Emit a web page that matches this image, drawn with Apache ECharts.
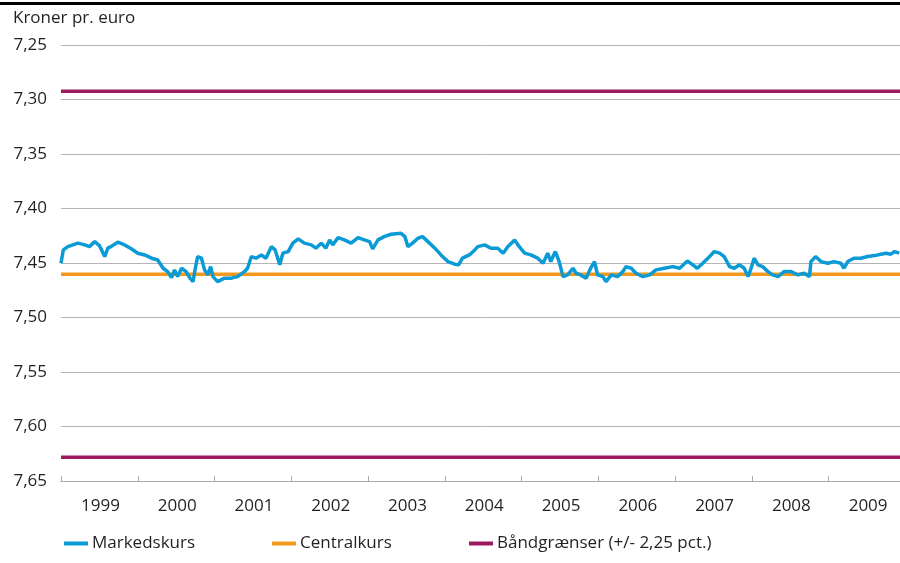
<!DOCTYPE html>
<html>
<head>
<meta charset="utf-8">
<script src="https://cdn.jsdelivr.net/npm/echarts@6/dist/echarts.min.js"></script>
<style>
  html, body { margin: 0; padding: 0; background: #fff; }
  #chart { width: 900px; height: 563px; }
</style>
</head>
<body>
<div id="chart"></div>
<script>
// Kronekurs mod euro 1999-2009 (y-akse vendt: 7,25 øverst)
var startYear = 1999;
var endYear = 2009.93;

// markedskurs, tid i decimalår
var marketDates = [
  1999.00, 1999.03, 1999.09, 1999.22, 1999.31, 1999.37, 1999.44, 1999.50, 1999.57, 1999.61,
  1999.65, 1999.74, 1999.83, 1999.92, 2000.00, 2000.09, 2000.18, 2000.26, 2000.33, 2000.39,
  2000.44, 2000.48, 2000.52, 2000.57, 2000.63, 2000.68, 2000.72, 2000.75, 2000.78, 2000.83,
  2000.87, 2000.91, 2000.95, 2000.98, 2001.04, 2001.13, 2001.22, 2001.30, 2001.39, 2001.43,
  2001.48, 2001.54, 2001.61, 2001.67, 2001.74, 2001.79, 2001.85, 2001.89, 2001.96, 2002.02,
  2002.09, 2002.17, 2002.26, 2002.32, 2002.39, 2002.45, 2002.50, 2002.54, 2002.61, 2002.69,
  2002.78, 2002.87, 2002.95, 2003.02, 2003.06, 2003.13, 2003.21, 2003.30, 2003.43, 2003.48,
  2003.52, 2003.58, 2003.65, 2003.71, 2003.78, 2003.87, 2003.95, 2004.04, 2004.13, 2004.18,
  2004.23, 2004.32, 2004.39, 2004.43, 2004.52, 2004.60, 2004.69, 2004.76, 2004.82, 2004.91,
  2004.97, 2005.04, 2005.12, 2005.21, 2005.28, 2005.34, 2005.38, 2005.44, 2005.49, 2005.54,
  2005.60, 2005.67, 2005.71, 2005.77, 2005.84, 2005.90, 2005.95, 2005.99, 2006.06, 2006.10,
  2006.17, 2006.25, 2006.32, 2006.36, 2006.43, 2006.49, 2006.58, 2006.67, 2006.75, 2006.86,
  2006.97, 2007.06, 2007.16, 2007.23, 2007.29, 2007.36, 2007.45, 2007.51, 2007.58, 2007.64,
  2007.71, 2007.77, 2007.84, 2007.90, 2007.95, 2007.99, 2008.03, 2008.08, 2008.14, 2008.21,
  2008.27, 2008.34, 2008.42, 2008.51, 2008.60, 2008.68, 2008.75, 2008.77, 2008.83, 2008.90,
  2008.99, 2009.07, 2009.16, 2009.20, 2009.25, 2009.33, 2009.42, 2009.51, 2009.60, 2009.68,
  2009.75, 2009.81, 2009.86, 2009.92
];
var marketRates = [
  7.4502, 7.4380, 7.4350, 7.4318, 7.4334, 7.4350, 7.4304, 7.4340, 7.4441, 7.4364,
  7.4350, 7.4309, 7.4334, 7.4371, 7.4410, 7.4426, 7.4456, 7.4472, 7.4548, 7.4579,
  7.4634, 7.4563, 7.4625, 7.4548, 7.4579, 7.4639, 7.4671, 7.4548, 7.4441, 7.4456,
  7.4563, 7.4609, 7.4533, 7.4625, 7.4671, 7.4639, 7.4639, 7.4625, 7.4579, 7.4548,
  7.4441, 7.4456, 7.4426, 7.4456, 7.4350, 7.4380, 7.4517, 7.4410, 7.4395, 7.4318,
  7.4279, 7.4318, 7.4334, 7.4364, 7.4318, 7.4364, 7.4288, 7.4334, 7.4267, 7.4288,
  7.4318, 7.4267, 7.4288, 7.4304, 7.4371, 7.4288, 7.4258, 7.4236, 7.4227, 7.4258,
  7.4350, 7.4318, 7.4273, 7.4258, 7.4304, 7.4364, 7.4426, 7.4487, 7.4511, 7.4517,
  7.4456, 7.4426, 7.4380, 7.4350, 7.4334, 7.4364, 7.4364, 7.4410, 7.4350, 7.4288,
  7.4350, 7.4410, 7.4426, 7.4456, 7.4502, 7.4410, 7.4487, 7.4395, 7.4487, 7.4625,
  7.4609, 7.4548, 7.4594, 7.4609, 7.4639, 7.4548, 7.4487, 7.4609, 7.4625, 7.4671,
  7.4609, 7.4625, 7.4579, 7.4533, 7.4548, 7.4594, 7.4625, 7.4609, 7.4563, 7.4548,
  7.4533, 7.4548, 7.4481, 7.4517, 7.4548, 7.4502, 7.4441, 7.4395, 7.4410, 7.4441,
  7.4533, 7.4548, 7.4517, 7.4548, 7.4625, 7.4548, 7.4456, 7.4517, 7.4533, 7.4579,
  7.4609, 7.4625, 7.4579, 7.4579, 7.4609, 7.4594, 7.4625, 7.4487, 7.4441, 7.4487,
  7.4502, 7.4487, 7.4502, 7.4548, 7.4487, 7.4456, 7.4456, 7.4441, 7.4432, 7.4419,
  7.4410, 7.4419, 7.4395, 7.4410
];

var centralRate = 7.46038;
var bandUpper = 7.29252;
var bandLower = 7.62824;

var yearLabels = [1999, 2000, 2001, 2002, 2003, 2004, 2005, 2006, 2007, 2008, 2009];

var FONT = '"Open Sans", "Noto Sans", sans-serif';
var TXT = '#231f20';
var FS = 17;

function pairs(xs, ys) {
    var out = [];
    for (var i = 0; i < xs.length; i++) {
        out.push([xs[i], ys[i]]);
    }
    return out;
}
function flat(v) {
    return [[startYear, v], [endYear, v]];
}

var legendBase = {
    top: 535, padding: 0, icon: 'rect', itemWidth: 24, itemHeight: 4, itemGap: 0,
    textStyle: { fontSize: FS, color: TXT, fontFamily: FONT, padding: [0, 0, 0, -1] }
};

var myChart = echarts.init(document.getElementById('chart'));

var option = {
    animation: false,
    backgroundColor: '#fff',
    textStyle: { fontFamily: FONT },
    graphic: [
        { type: 'rect', left: 0, top: 2, shape: { width: 900, height: 3 }, style: { fill: '#000' } },
        { type: 'text', left: 13, top: 10, style: { text: 'Kroner pr. euro', font: FS + 'px ' + FONT, fill: TXT } }
    ],
    grid: { left: 61, right: 0, top: 45, bottom: 82 },
    legend: [
        Object.assign({ left: 64, data: ['Markedskurs'] }, legendBase),
        Object.assign({ left: 272, data: ['Centralkurs'] }, legendBase),
        Object.assign({ left: 469, data: ['Båndgrænser (+/- 2,25 pct.)'] }, legendBase)
    ],
    xAxis: {
        type: 'value',
        min: startYear,
        max: endYear,
        interval: 1,
        axisLine: { show: true, lineStyle: { color: '#aaaaaa', width: 1 } },
        axisTick: { show: true, inside: true, length: 5, lineStyle: { color: '#aaaaaa' } },
        splitLine: { show: false },
        axisLabel: {
            color: TXT,
            fontSize: FS,
            fontFamily: FONT,
            margin: 17,
            align: 'center',
            padding: [0, 0, 0, 79],
            showMaxLabel: false,
            formatter: function (v) {
                var y = Math.round(v);
                return yearLabels.indexOf(y) >= 0 ? String(y) : '';
            }
        }
    },
    yAxis: {
        type: 'value',
        inverse: true,
        min: 7.25,
        max: 7.65,
        interval: 0.05,
        axisLine: { show: false },
        axisTick: { show: false },
        splitLine: { lineStyle: { color: '#b4b4b4', width: 1 } },
        axisLabel: {
            color: TXT,
            fontSize: FS,
            fontFamily: FONT,
            margin: 14,
            formatter: function (v) { return v.toFixed(2).replace('.', ','); }
        }
    },
    series: [
        {
            name: 'Båndgrænser (+/- 2,25 pct.)', type: 'line', symbol: 'none',
            data: flat(bandUpper), lineStyle: { color: '#9e1a5e', width: 3.5 }, itemStyle: { color: '#9e1a5e' }
        },
        {
            name: 'Båndgrænser (+/- 2,25 pct.)', type: 'line', symbol: 'none',
            data: flat(bandLower), lineStyle: { color: '#9e1a5e', width: 3.5 }, itemStyle: { color: '#9e1a5e' }
        },
        {
            name: 'Centralkurs', type: 'line', symbol: 'none',
            data: flat(centralRate), lineStyle: { color: '#f39a1e', width: 3.5 }, itemStyle: { color: '#f39a1e' }
        },
        {
            name: 'Markedskurs', type: 'line', symbol: 'none',
            data: pairs(marketDates, marketRates), lineStyle: { color: '#0a9bd7', width: 3.5 }, itemStyle: { color: '#0a9bd7' }
        }
    ]
};

myChart.setOption(option);
window.addEventListener('resize', function () {
    myChart.resize();
});
</script>
</body>
</html>
